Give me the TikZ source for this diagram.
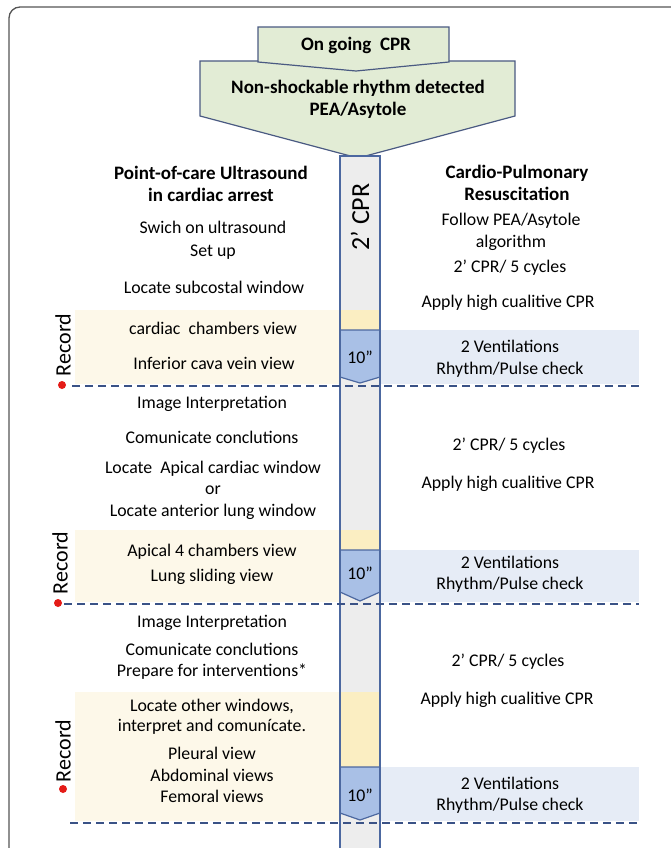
\documentclass[tikz,border=0pt]{standalone}
\usepackage{fontspec}
\setmainfont{Carlito}
\definecolor{boxgreen}{HTML}{E2ECD5}
\definecolor{boxline}{HTML}{4A5A82}
\definecolor{bargrey}{HTML}{EDEDED}
\definecolor{barline}{HTML}{4C68A0}
\definecolor{recyellow}{HTML}{FDF8E9}
\definecolor{baryellow}{HTML}{FBEEC2}
\definecolor{chevblue}{HTML}{A9C0E6}
\definecolor{ventblue}{HTML}{E6ECF6}
\definecolor{sepblue}{HTML}{3A5286}
\definecolor{recred}{HTML}{E41B17}
\definecolor{framegrey}{HTML}{555555}
\begin{document}
\begin{tikzpicture}[x=1pt,y=-1pt,
    txt/.style={inner sep=0pt, align=center, font=\fontsize{17.8}{21.5}\selectfont},
    head/.style={txt, font=\fontsize{19}{22}\selectfont\bfseries},
    rec/.style={inner sep=0pt, rotate=90, font=\fontsize{22}{24}\selectfont},
    sep/.style={draw=sepblue, line width=1.5pt, dash pattern=on 8pt off 5pt}]
    \useasboundingbox (0,0) rectangle (670,848);
    \draw[framegrey, line width=1.3pt, rounded corners=11pt] (9,870) -- (9,7) -- (690,7);
    \draw[boxline, fill=boxgreen, line width=1.2pt] (200,61) -- (515,61) -- (515,116) -- (358,158) -- (200,116) -- cycle;
    \draw[boxline, fill=boxgreen, line width=1.2pt] (258,27) -- (449,27) -- (449,62) -- (356,71) -- (258,62) -- cycle;
    \fill[bargrey] (340,156) rectangle (380,870);
    \foreach \i/\yt/\yb/\ys/\yd in {1/310/330/377/386, 2/530/550/592/604, 3/692/767/813/823} {
        \fill[recyellow] (75,\yt) rectangle (340,\yd-2);
        \fill[ventblue] (380,\yb) rectangle (639,\yd-2);
        \fill[baryellow] (340,\yt) rectangle (380,\yb);
        \draw[barline, fill=chevblue, line width=1.2pt] (340,\yb) -- (380,\yb) -- (380,\ys) -- (360,\yd-3) -- (340,\ys) -- cycle;
    }
    \draw[barline, line width=1.2pt] (340,870) -- (340,156) -- (380,156) -- (380,870);
    \draw[sep] (72,386) -- (639,386);
    \draw[sep] (64,604) -- (639,604);
    \draw[sep] (70,823) -- (639,823);
    \node[head] (ongoing) at (356,45) {On going\ \ CPR};
    \node[head] (nonshock) at (358,99) {Non-shockable rhythm detected\\PEA/Asytole};
    \node[txt, rotate=90, font=\fontsize{26}{30}\selectfont] (cpr) at (360,217) {2' CPR};
    \node[rec] (rec1) at (63,345) {Record};
    \node[rec] (rec2) at (60,563) {Record};
    \node[rec] (rec3) at (63,751) {Record};
    \fill[recred] (62,385) circle (4);
    \fill[recred] (58,603) circle (4);
    \fill[recred] (63,789) circle (4);
    \node[head] (pocus) at (211,184) {Point-of-care Ultrasound\\in cardiac arrest};
    \node[txt] (switch) at (213,227) {Swich on ultrasound};
    \node[txt] (setup) at (213,252) {Set up};
    \node[txt] (subcostal) at (214,287) {Locate subcostal window};
    \node[txt] (chambers) at (213,328) {cardiac\ \ chambers view};
    \node[txt] (cava) at (214,363) {Inferior cava vein view};
    \node[txt] (interp1) at (212,404) {Image Interpretation};
    \node[txt] (comm1) at (212,437) {Comunicate conclutions};
    \node[txt] (apical) at (213,490) {Locate\ \ Apical cardiac window\\or\\Locate anterior lung window};
    \node[txt] (fourch) at (212,552) {Apical 4 chambers view};
    \node[txt] (lung) at (212,577) {Lung sliding view};
    \node[txt] (interp2) at (212,623) {Image Interpretation};
    \node[txt] (comm2) at (212,649) {Comunicate conclutions};
    \node[txt] (prepare) at (212,672) {Prepare for interventions*};
    \node[txt, font=\fontsize{17.8}{20}\selectfont] (other) at (212,717) {Locate other windows,\\interpret and comunícate.};
    \node[txt] (views) at (212,775) {Pleural view\\Abdominal views\\Femoral views};
    \node[head] (cardio) at (517,183) {Cardio-Pulmonary\\Resuscitation};
    \node[txt] (follow) at (511,232) {Follow PEA/Asytole\\algorithm};
    \node[txt] (cycles1) at (510,268) {2' CPR/ 5 cycles};
    \node[txt] (apply1) at (508,303) {Apply high cualitive CPR};
    \node[txt] (vent1) at (510,359) {2 Ventilations\\Rhythm/Pulse check};
    \node[txt] (cycles2) at (509,446) {2' CPR/ 5 cycles};
    \node[txt] (apply2) at (508,484) {Apply high cualitive CPR};
    \node[txt] (vent2) at (510,574) {2 Ventilations\\Rhythm/Pulse check};
    \node[txt] (cycles3) at (508,662) {2' CPR/ 5 cycles};
    \node[txt] (apply3) at (507,700) {Apply high cualitive CPR};
    \node[txt] (vent3) at (510,795) {2 Ventilations\\Rhythm/Pulse check};
    \node[txt] (ten1) at (360,357) {10''};
    \node[txt] (ten2) at (360,573) {10''};
    \node[txt] (ten3) at (360,795) {10''};
\end{tikzpicture}
\end{document}
